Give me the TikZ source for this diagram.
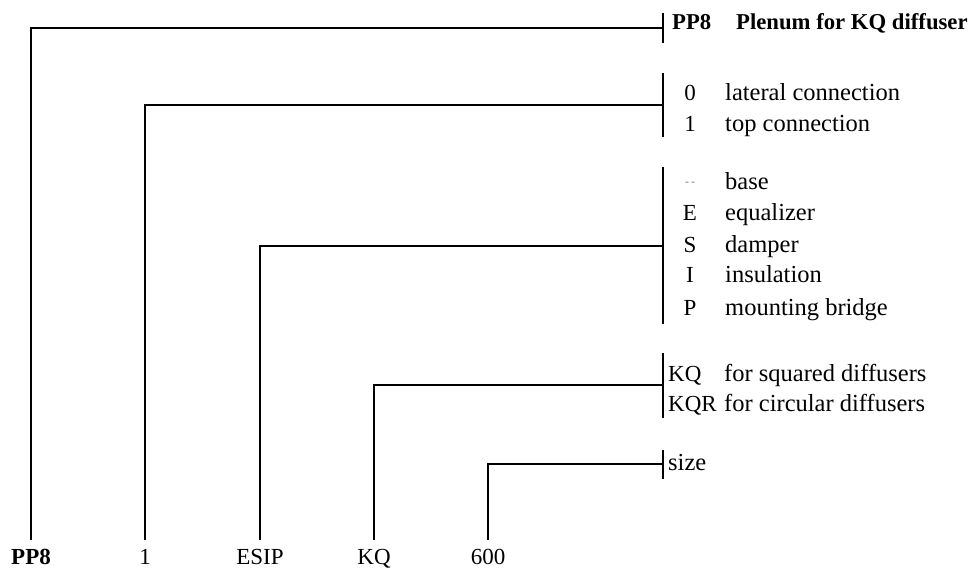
\documentclass[tikz,border=0pt]{standalone}
\usepackage{fontspec}
\setmainfont{Liberation Serif}
\begin{document}
\begin{tikzpicture}[x=1pt,y=-1pt, line width=2.4pt,
  txt/.style={inner sep=0pt, font=\fontsize{23}{23}\selectfont},
  bot/.style={txt, anchor=base},
  code/.style={txt, anchor=base},
  desc/.style={inner sep=0pt, anchor=base west, font=\fontsize{24.5}{24.5}\selectfont},
  codew/.style={txt, anchor=base west},
  head/.style={inner sep=0pt, anchor=base west, font=\fontsize{22.7}{22.7}\selectfont\bfseries},
  conn/.style={draw, line width=2.4pt},
  barline/.style={draw, line width=2.4pt}]
\useasboundingbox (0,0) rectangle (971,569);
% bottom labels
\node[bot, font=\fontsize{23}{23}\selectfont\bfseries] (bPP) at (31,564) {PP8};
\node[bot] (b1) at (145,564) {1};
\node[bot] (bE) at (260,564) {ESIP};
\node[bot] (bK) at (374,564) {KQ};
\node[bot] (b6) at (488,564) {600};
% start points of the connectors
\coordinate (s1) at (31,540);
\coordinate (s2) at (145,540);
\coordinate (s3) at (260,540);
\coordinate (s4) at (374,540);
\coordinate (s5) at (488,540);
% bars
\coordinate (t1) at (663,13);  \coordinate (u1) at (663,43);  \coordinate (e1) at (663,28);
\coordinate (t2) at (663,73);  \coordinate (u2) at (663,137); \coordinate (e2) at (663,105);
\coordinate (t3) at (663,167); \coordinate (u3) at (663,324); \coordinate (e3) at (663,246);
\coordinate (t4) at (663,353); \coordinate (u4) at (663,418); \coordinate (e4) at (663,385);
\coordinate (t5) at (663,450); \coordinate (u5) at (663,479); \coordinate (e5) at (663,464);
\foreach \i in {1,...,5} {\draw[barline] (t\i) -- (u\i);}
\draw[conn] (s1) |- (e1);
\draw[conn] (s2) |- (e2);
\draw[conn] (s3) |- (e3);
\draw[conn] (s4) |- (e4);
\draw[conn] (s5) |- (e5);
% header
\node[head] (hPP) at (671,30) {PP8};
\node[head] (hT) at (735,30) {Plenum for KQ diffuser};
% group 2
\node[code] (c20) at (690,101) {0};
\node[desc] (d20) at (724,101) {lateral connection};
\node[code] (c21) at (690,132) {1};
\node[desc] (d21) at (724,132) {top connection};
% group 3
\node[code, text=gray, font=\fontsize{12}{12}\selectfont] (c30) at (690,186) {-\,-};
\node[desc] (d30) at (724,190) {base};
\node[code] (c31) at (690,221) {E};
\node[desc] (d31) at (724,221) {equalizer};
\node[code] (c32) at (690,252) {S};
\node[desc] (d32) at (724,252) {damper};
\node[code] (c33) at (690,283) {I};
\node[desc] (d33) at (724,283) {insulation};
\node[code] (c34) at (690,315) {P};
\node[desc] (d34) at (724,315) {mounting bridge};
% group 4
\node[codew] (c40) at (667,381) {KQ};
\node[desc] (d40) at (723,381) {for squared diffusers};
\node[codew] (c41) at (667,411) {KQR};
\node[desc] (d41) at (723,411) {for circular diffusers};
% group 5
\node[desc] (d50) at (667,470) {size};
\end{tikzpicture}
\end{document}
